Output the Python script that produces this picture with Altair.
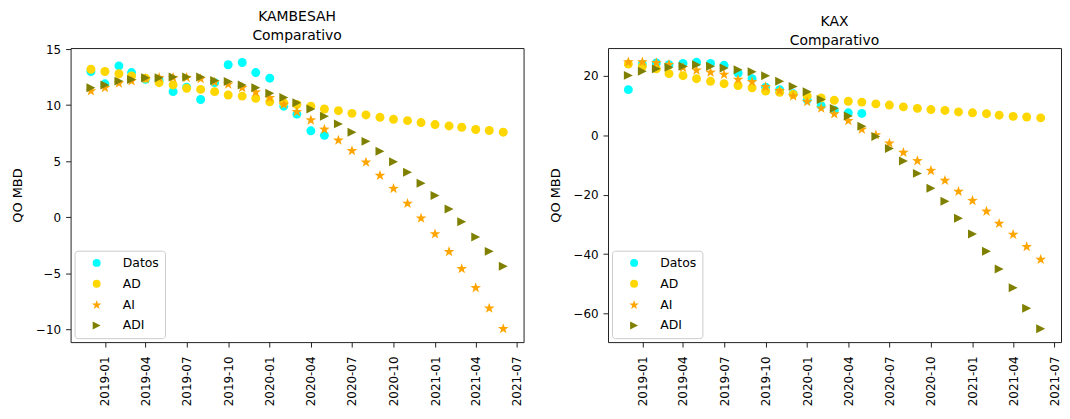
import altair as alt
import pandas as pd
import math

# ---------------- data ----------------
MONTHS = [str(d.date()) for d in pd.date_range("2018-12-01", "2021-06-01", freq="MS")]
SERIES = ["Datos", "AD", "AI", "ADI"]
COLORS = ["#00FFFF", "#FFD700", "#FFA500", "#808000"]

KAMB_DATOS = [13.0, 11.9, 13.5, 12.9, 12.3, 12.2, 11.2, 11.6, 10.5, 12.0, 13.6, 13.8, 12.9,
              12.4, 9.9, 9.2, 7.7, 7.3]
KAMB_AD = [13.2, 13.0, 12.8, 12.6, 12.4, 12.0, 11.8, 11.5, 11.4, 11.2, 10.9, 10.8, 10.6,
           10.3, 10.2, 10.05, 9.9, 9.65, 9.5, 9.26, 9.12, 8.91, 8.73, 8.61, 8.44,
           8.26, 8.14, 8.02, 7.82, 7.73, 7.58]
KAMB_AI = [11.3, 11.6, 12.0, 12.2, 12.4, 12.5, 12.5, 12.5, 12.4, 12.1, 11.9, 11.6, 11.2,
           10.7, 10.1, 9.44, 8.7, 7.88, 6.91, 5.97, 4.94, 3.76, 2.59, 1.26, -0.06,
           -1.47, -3.04, -4.56, -6.27, -8.09, -9.92]
KAMB_ADI = [11.55, 11.79, 12.14, 12.29, 12.44, 12.44, 12.5, 12.5, 12.5, 12.2, 12.1, 11.79, 11.55,
            11.06, 10.67, 10.2, 9.65, 9.0, 8.32, 7.58, 6.76, 5.88, 4.94, 4.0, 3.03,
            1.93, 0.73, -0.41, -1.77, -3.06, -4.39]

KAX_DATOS = [15.4, 24.0, 24.4, 23.8, 24.2, 24.6, 24.2, 23.6, 21.0, 19.1, 16.2, 15.4, 14.0,
             12.0, 10.0, 8.5, 7.6, 7.4]
KAX_AD = [24.0, 23.2, 22.4, 20.8, 20.1, 19.1, 18.2, 17.4, 16.8, 16.0, 14.9, 14.5, 13.8,
          13.3, 12.6, 11.8, 11.5, 11.2, 10.6, 10.2, 9.6, 9.1, 8.7, 8.4, 7.9,
          7.6, 7.3, 6.8, 6.4, 6.2, 5.9]
KAX_AI = [24.9, 24.9, 24.6, 24.0, 23.0, 22.1, 21.4, 20.7, 19.0, 18.2, 16.5, 15.2, 13.4,
          11.5, 9.3, 7.4, 5.1, 2.2, 0.3, -2.5, -5.6, -8.4, -11.7, -15.0, -18.7,
          -21.8, -25.4, -29.5, -33.2, -37.3, -41.6]
KAX_ADI = [20.2, 21.6, 22.4, 22.9, 23.3, 23.8, 23.3, 22.7, 22.1, 21.4, 20.1, 18.2, 16.5,
           14.7, 12.1, 9.1, 6.5, 3.1, -0.4, -4.4, -8.6, -12.8, -17.8, -22.2, -27.9,
           -33.2, -39.0, -45.0, -51.3, -58.2, -65.1]

X_TICKS = ["2019-01-01", "2019-04-01", "2019-07-01", "2019-10-01", "2020-01-01", "2020-04-01",
           "2020-07-01", "2020-10-01", "2021-01-01", "2021-04-01", "2021-07-01"]
KAMB_YTICKS = [-10, -5, 0, 5, 10, 15]
KAX_YTICKS = [-60, -40, -20, 0, 20]


def ms(s):
    return int(pd.Timestamp(s, tz="UTC").value // 10**6)


X_DOMAIN = [ms("2018-10-17"), ms("2021-07-16")]

# star / triangle marker paths (unit square)
_pts = []
for i in range(10):
    a = math.radians(-90 + 36 * i)
    r = 1.25 if i % 2 == 0 else 0.50
    _pts.append(f"{r*math.cos(a):.3f},{r*math.sin(a) + 0.12:.3f}")
STAR = "M" + "L".join(_pts) + "Z"
TRI_RIGHT = "M1,0L-1,-1L-1,1Z"
SHAPES = ["circle", "circle", STAR, TRI_RIGHT]

FONT = "DejaVu Sans"
W, H = 456, 296


def panel(name, series_vals, ydomain, yticks):
    rows = []
    for k, (s, vals) in enumerate(zip(SERIES, series_vals)):
        for m, v in zip(MONTHS, vals):
            rows.append({"fecha": m, "valor": v, "serie": s, "orden": k})
    df = pd.DataFrame(rows)
    legend = alt.Legend(
        title=None, orient="bottom-left", offset=4, fillColor="white",
        strokeColor="#cccccc", cornerRadius=3, padding=6, symbolOffset=10,
        labelOffset=20, rowPadding=8, symbolSize=64, labelFontSize=12.5,
        labelFont=FONT, labelColor="black",
    )
    return alt.Chart(
        df,
        title=alt.TitleParams(
            text=[name, "Comparativo"], fontSize=14, font=FONT, fontWeight="normal",
            lineHeight=19, anchor="middle", color="black", offset=0,
        ),
    ).mark_point(filled=True, opacity=1, size=81).encode(
        x=alt.X(
            "fecha:T",
            scale=alt.Scale(type="utc", domain=X_DOMAIN, nice=False),
            axis=alt.Axis(values=[ms(t) for t in X_TICKS], format="%Y-%m", labelAngle=-90,
                          labelPadding=9, title=None),
        ),
        y=alt.Y(
            "valor:Q",
            scale=alt.Scale(domain=ydomain, nice=False, zero=False),
            axis=alt.Axis(values=yticks, title="QO MBD", titleX=-53, titleY=H / 2,
                          titleBaseline="middle", titleAlign="center", labelPadding=5),
        ),
        color=alt.Color("serie:N", scale=alt.Scale(domain=SERIES, range=COLORS), legend=legend),
        shape=alt.Shape("serie:N", scale=alt.Scale(domain=SERIES, range=SHAPES), legend=legend),
        order=alt.Order("orden:Q"),
    ).properties(width=W, height=H)


left = panel("KAMBESAH", [KAMB_DATOS, KAMB_AD, KAMB_AI, KAMB_ADI], [-11.16, 15.09], KAMB_YTICKS)
right = panel("KAX", [KAX_DATOS, KAX_AD, KAX_AI, KAX_ADI], [-69.6, 29.4], KAX_YTICKS)

chart = alt.hconcat(left, right, spacing=24).resolve_scale(
    y="independent"
).resolve_legend(color="independent", shape="independent").properties(
    padding={"left": 3, "top": 0, "right": 0, "bottom": 0},
    background="white",
).configure_view(
    stroke="#222222", strokeWidth=1
).configure_axis(
    domain=False, grid=False, tickColor="#222222", tickSize=5, labelColor="black",
    labelFont=FONT, labelFontSize=12, titleFont=FONT, titleFontSize=13,
    titleFontWeight="normal", titleColor="black",
)

chart.save("out.html", embed_options={"renderer": "svg", "actions": False})
